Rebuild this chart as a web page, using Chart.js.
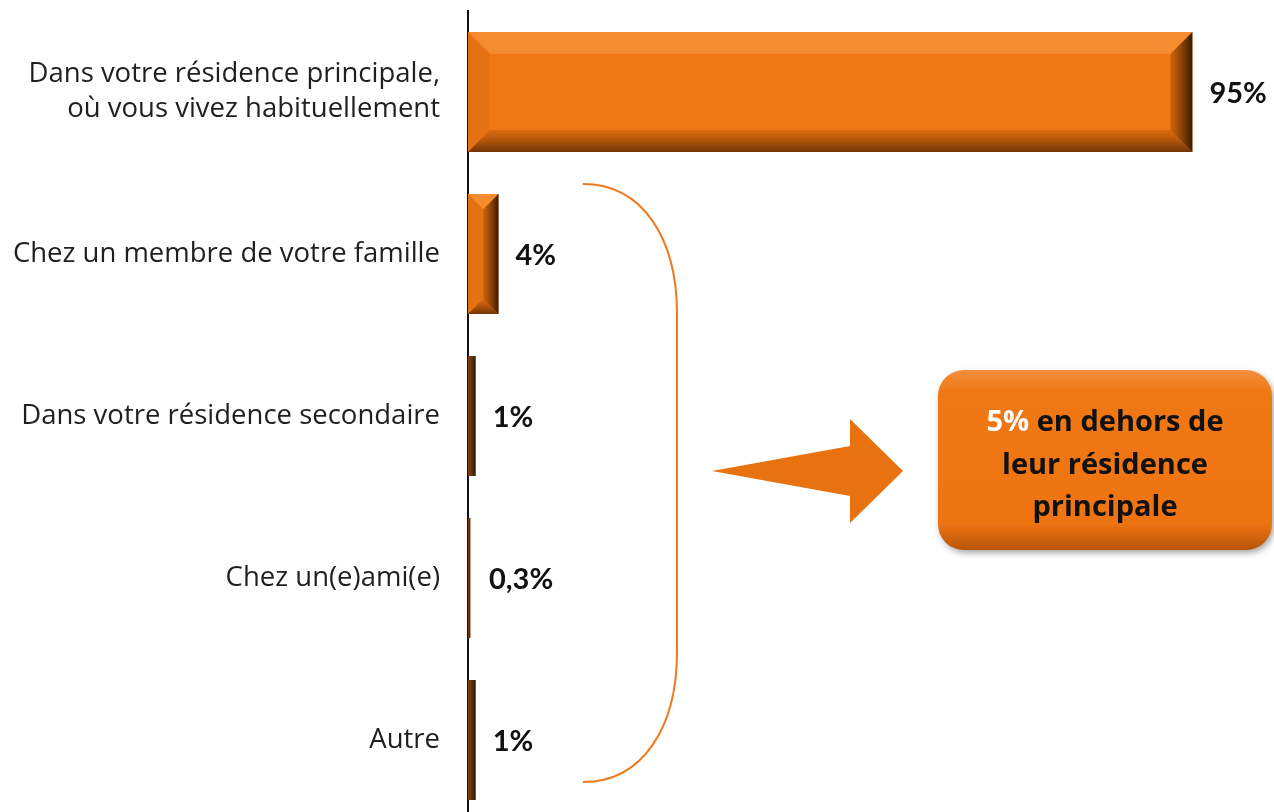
<!DOCTYPE html>
<html>
<head>
<meta charset="utf-8">
<script src="https://cdn.jsdelivr.net/npm/chart.js@4.4.1/dist/chart.umd.min.js"></script>
<style>
  html, body { margin: 0; padding: 0; background: #fff; overflow: hidden; }
  #wrap { position: absolute; left: 0; top: 0; width: 1274px; height: 822px; }
</style>
</head>
<body>
<div id="wrap"><canvas id="myChart" width="1274" height="822"></canvas></div>
<script>
"use strict";
// categories (first one wraps on two lines)
const categories = [
    ['Dans votre résidence principale,', 'où vous vivez habituellement'],
    'Chez un membre de votre famille',
    'Dans votre résidence secondaire',
    'Chez un(e)ami(e)',
    'Autre'
];
const values = [95, 4, 1, 0.3, 1];
const valueLabels = ['95%', '4%', '1%', '0,3%', '1%'];
const calloutLead = '5%';
const calloutLines = ['en dehors de', 'leur résidence', 'principale'];

const orange = '#F07814';
const labelFont = '"Open Sans", sans-serif';
const valueFont = 'Lato, "Open Sans", sans-serif';

// bevel look on each bar
const bevelPlugin = {
    id: 'bevel',
    afterDatasetsDraw(chart) {
        const c = chart.ctx;
        chart.getDatasetMeta(0).data.forEach(function(bar) {
            const x0 = bar.base, x1 = bar.x;
            const y0 = bar.y - bar.height / 2, y1 = bar.y + bar.height / 2;
            const w = x1 - x0, h = y1 - y0;
            c.save();
            if (w < 12) {
                // thin bars look almost only like the dark edge
                const tg = c.createLinearGradient(x0, 0, x0 + Math.max(w, 2), 0);
                tg.addColorStop(0, '#8a4510');
                tg.addColorStop(1, '#2e1a0a');
                c.fillStyle = tg;
                c.fillRect(x0, y0, Math.max(w, 2), h);
                c.restore();
                return;
            }
            const b = Math.min(22, w / 2, h / 2);
            // top light
            c.fillStyle = 'rgba(255,170,90,0.4)';
            c.beginPath(); c.moveTo(x0, y0); c.lineTo(x1, y0); c.lineTo(x1 - b, y0 + b); c.lineTo(x0 + b, y0 + b); c.closePath(); c.fill();
            // left medium
            c.fillStyle = 'rgba(200,90,10,0.25)';
            c.beginPath(); c.moveTo(x0, y0); c.lineTo(x0 + b, y0 + b); c.lineTo(x0 + b, y1 - b); c.lineTo(x0, y1); c.closePath(); c.fill();
            // bottom dark
            const bg = c.createLinearGradient(0, y1 - b, 0, y1);
            bg.addColorStop(0, 'rgba(150,65,0,0.25)');
            bg.addColorStop(1, 'rgba(80,35,0,0.8)');
            c.fillStyle = bg;
            c.beginPath(); c.moveTo(x0, y1); c.lineTo(x0 + b, y1 - b); c.lineTo(x1 - b, y1 - b); c.lineTo(x1, y1); c.closePath(); c.fill();
            // right darkest
            const g = c.createLinearGradient(x1 - b, 0, x1, 0);
            g.addColorStop(0, 'rgba(120,50,0,0.3)');
            g.addColorStop(1, 'rgba(45,20,0,0.95)');
            c.fillStyle = g;
            c.beginPath(); c.moveTo(x1, y0); c.lineTo(x1, y1); c.lineTo(x1 - b, y1 - b); c.lineTo(x1 - b, y0 + b); c.closePath(); c.fill();
            c.restore();
        });
    }
};

// value labels right of bars
const valueLabelPlugin = {
    id: 'valueLabels',
    afterDatasetsDraw(chart) {
        const c = chart.ctx;
        c.save();
        c.font = 'bold 29px ' + valueFont;
        c.fillStyle = '#111';
        c.textAlign = 'left';
        c.textBaseline = 'middle';
        chart.getDatasetMeta(0).data.forEach(function(bar, i) {
            c.fillText(valueLabels[i], Math.max(bar.x, chart.chartArea.left + 4) + 17, bar.y + 2);
        });
        c.restore();
    }
};

// bracket, arrow and callout box
const calloutPlugin = {
    id: 'callout',
    afterDraw(chart) {
        const c = chart.ctx;
        const ys = chart.scales.y;
        const top = ys.getPixelForValue(1) - 70;
        const bottom = ys.getPixelForValue(4) + 42;
        const xl = 583, xr = 677, r = 130;
        c.save();
        c.strokeStyle = '#EE7A1E';
        c.lineWidth = 2;
        c.beginPath();
        c.moveTo(xl, top);
        c.bezierCurveTo(xl + 60, top, xr, top + 55, xr, top + r);
        c.lineTo(xr, bottom - r);
        c.bezierCurveTo(xr, bottom - 55, xl + 60, bottom, xl, bottom);
        c.stroke();

        // arrow
        const my = (top + bottom) / 2 - 12;
        c.fillStyle = '#E8720F';
        c.beginPath();
        c.moveTo(712, my);
        c.lineTo(850, my - 25);
        c.lineTo(850, my - 52);
        c.lineTo(903, my);
        c.lineTo(850, my + 52);
        c.lineTo(850, my + 25);
        c.closePath();
        c.fill();

        // rounded box
        const bx = 938, by = 370, bw = 334, bh = 180, br = 26;
        c.shadowColor = 'rgba(0,0,0,0.35)';
        c.shadowBlur = 6;
        c.shadowOffsetX = 2;
        c.shadowOffsetY = 3;
        const bg = c.createLinearGradient(0, by, 0, by + bh);
        bg.addColorStop(0, '#F39040');
        bg.addColorStop(0.12, '#F07814');
        bg.addColorStop(0.85, '#EE7412');
        bg.addColorStop(1, '#B85508');
        c.fillStyle = bg;
        c.beginPath();
        c.roundRect(bx, by, bw, bh, br);
        c.fill();
        c.shadowColor = 'transparent';

        c.font = 'bold 29px ' + labelFont;
        c.textBaseline = 'middle';
        const cx = bx + bw / 2;
        const w1 = c.measureText(calloutLead + ' ').width;
        const w2 = c.measureText(calloutLines[0]).width;
        let sx = cx - (w1 + w2) / 2;
        c.textAlign = 'left';
        c.fillStyle = '#fff';
        c.fillText(calloutLead, sx, 423);
        c.fillStyle = '#111';
        c.fillText(calloutLines[0], sx + w1, 423);
        c.textAlign = 'center';
        c.fillText(calloutLines[1], cx, 466);
        c.fillText(calloutLines[2], cx, 508);
        c.restore();
    }
};

const ctx = document.getElementById('myChart');
var myChart = new Chart(ctx, {
    type: 'bar',
    data: {
        labels: categories,
        datasets: [{
            data: values,
            backgroundColor: orange,
            borderWidth: 0,
            categoryPercentage: 0.74,
            barPercentage: 1
        }]
    },
    options: {
        indexAxis: 'y',
        responsive: false,
        animation: false,
        devicePixelRatio: 1,
        layout: { padding: { left: 0, right: 74, top: 11, bottom: 1 } },
        plugins: { legend: { display: false }, tooltip: { enabled: false } },
        scales: {
            x: {
                display: false,
                min: 0,
                max: 96
            },
            y: {
                grid: { display: false },
                border: { display: true, color: '#111', width: 2 },
                ticks: {
                    color: '#1f1f1f',
                    padding: 20,
                    font: { family: labelFont, size: 27.5, lineHeight: 1.28 }
                },
                afterFit(scale) {
                    scale.width = 468;
                    scale.paddingTop = 0;
                    scale.paddingBottom = 0;
                }
            }
        }
    },
    plugins: [bevelPlugin, valueLabelPlugin, calloutPlugin]
});
</script>
</body>
</html>
